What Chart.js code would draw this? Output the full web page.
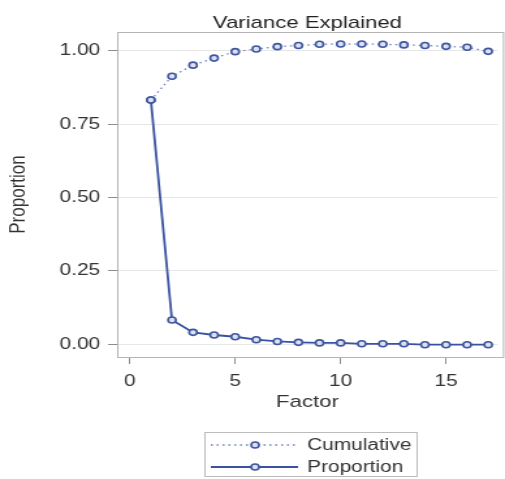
<!DOCTYPE html>
<html><head><meta charset="utf-8">
<script src="https://cdn.jsdelivr.net/npm/chart.js@4/dist/chart.umd.min.js"></script>
<style>
html,body{margin:0;padding:0;background:#fff;overflow:hidden;width:505px;height:479px;}
#wrap{position:absolute;left:0;top:0;width:388px;height:479px;transform:scaleX(1.3015);transform-origin:0 0;}
#c{display:block;}
</style></head><body>
<div id="wrap"><canvas id="c" width="388" height="479"></canvas></div>
<script>
const chartTitle = 'Variance Explained';
const xTitle = 'Factor';
const yTitle = 'Proportion';
const factors = [1, 2, 3, 4, 5, 6, 7, 8, 9, 10, 11, 12, 13, 14, 15, 16, 17];
const cumulative = [0.832, 0.913, 0.951, 0.975, 0.997, 1.006, 1.014, 1.018, 1.022, 1.023, 1.023, 1.022, 1.020, 1.018, 1.015, 1.012, 0.998];
const proportion = [0.832, 0.082, 0.040, 0.031, 0.025, 0.015, 0.009, 0.006, 0.004, 0.004, 0.001, 0.001, 0.001, -0.002, -0.002, -0.002, -0.002];
const xTicks = [0, 5, 10, 15];
const yTicks = [0, 0.25, 0.5, 0.75, 1.0];
const seriesNames = ['Cumulative', 'Proportion'];

const FAMILY = "'Liberation Sans', Arial, Helvetica, sans-serif";
const MARK_EDGE = '#3f559e';
const MARK_FILL = '#dce2f3';

const framePlugin = {
  id: 'frame',
  beforeDatasetsDraw(chart) {
    const {ctx, chartArea: a} = chart;
    ctx.save();
    ctx.strokeStyle = '#b4b4b4';
    ctx.lineWidth = 1;
    ctx.strokeRect(Math.round(a.left) + 0.5, Math.round(a.top) + 0.5, a.right - a.left + 4, Math.round(a.bottom - a.top));
    ctx.restore();
  }
};

const decorPlugin = {
  id: 'decor',
  afterDraw(chart) {
    const {ctx, chartArea: a} = chart;
    ctx.save();
    // title
    ctx.fillStyle = '#222';
    ctx.font = '17px ' + FAMILY;
    ctx.textAlign = 'center';
    ctx.textBaseline = 'alphabetic';
    ctx.fillText(chartTitle, (a.left + a.right) / 2, 28);
    // legend
    const bx = 157.5, by = 432.5, bw = 163, bh = 44;
    ctx.strokeStyle = '#bcbcbc';
    ctx.lineWidth = 1;
    ctx.strokeRect(bx, by, bw, bh);
    const rows = [445, 467];
    chart.data.datasets.forEach((ds, i) => {
      const y = rows[i];
      ctx.save();
      ctx.strokeStyle = ds.borderColor;
      ctx.lineWidth = ds.borderWidth;
      ctx.setLineDash(ds.borderDash || []);
      ctx.beginPath();
      ctx.moveTo(162, y);
      ctx.lineTo(229, y);
      ctx.stroke();
      ctx.setLineDash([]);
      ctx.beginPath();
      ctx.arc(196, y, 3, 0, Math.PI * 2);
      ctx.fillStyle = MARK_FILL;
      ctx.fill();
      ctx.lineWidth = 1.6;
      ctx.strokeStyle = MARK_EDGE;
      ctx.stroke();
      ctx.restore();
      ctx.fillStyle = '#333';
      ctx.font = '16px ' + FAMILY;
      ctx.textAlign = 'left';
      ctx.textBaseline = 'middle';
      ctx.fillText(ds.label, 236, y + 1);
    });
    ctx.restore();
  }
};

const toPts = arr => factors.map((f, i) => ({x: f, y: arr[i]}));

new Chart(document.getElementById('c'), {
  type: 'line',
  data: {
    datasets: [
      {
        label: seriesNames[0],
        data: toPts(cumulative),
        borderColor: '#6f82c2',
        borderWidth: 1.3,
        borderDash: [1.5, 3],
        pointRadius: 3,
        pointBorderWidth: 1.6,
        pointBorderColor: MARK_EDGE,
        pointBackgroundColor: MARK_FILL,
        tension: 0,
        order: 2
      },
      {
        label: seriesNames[1],
        data: toPts(proportion),
        borderColor: '#3a53a0',
        borderWidth: 1.8,
        pointRadius: 3,
        pointBorderWidth: 1.6,
        pointBorderColor: MARK_EDGE,
        pointBackgroundColor: MARK_FILL,
        tension: 0,
        order: 1
      }
    ]
  },
  options: {
    responsive: false,
    animation: false,
    events: [],
    layout: {padding: {top: 32, bottom: 62, left: 0, right: 0}},
    plugins: {legend: {display: false}, title: {display: false}, tooltip: {enabled: false}},
    scales: {
      x: {
        type: 'linear', min: -0.6, max: 17.45,
        afterBuildTicks: s => { s.ticks = xTicks.map(v => ({value: v})); },
        afterFit: s => { s.height = 60; },
        grid: {drawOnChartArea: false, drawTicks: true, tickLength: 7, tickColor: '#8c8c8c'},
        border: {display: false},
        ticks: {padding: 8, color: '#333', font: {family: FAMILY, size: 16}, maxRotation: 0, autoSkip: false, callback: v => String(v)},
        title: {display: true, text: xTitle, color: '#333', font: {family: FAMILY, size: 17}, padding: {top: 0, bottom: 4}}
      },
      y: {
        type: 'linear', min: -0.044, max: 1.064,
        afterBuildTicks: s => { s.ticks = yTicks.map(v => ({value: v})); },
        afterFit: s => { s.width = 90; },
        grid: {color: '#e6e6e6', tickColor: '#8c8c8c', tickLength: 7, drawTicks: true},
        border: {display: false},
        ticks: {padding: 6, color: '#333', font: {family: FAMILY, size: 16}, autoSkip: false, callback: v => Number(v).toFixed(2)},
        title: {display: true, text: yTitle, color: '#333', font: {family: FAMILY, size: 17}, padding: {top: 4, bottom: 0}}
      }
    }
  },
  plugins: [framePlugin, decorPlugin]
});
</script>
</body></html>
